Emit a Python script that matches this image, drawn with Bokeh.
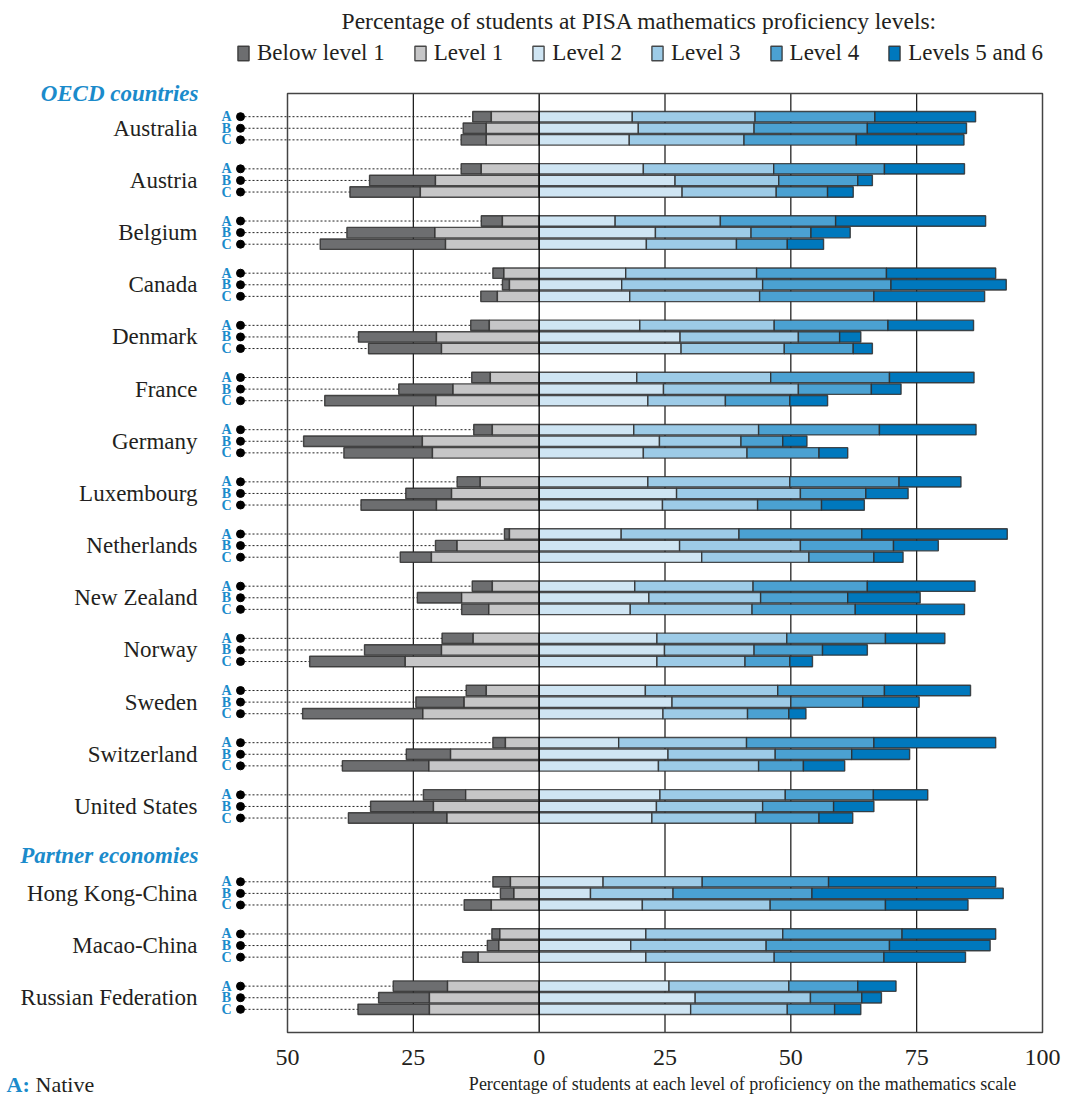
import pandas as pd
from bokeh.plotting import figure
from bokeh.models import ColumnDataSource, Legend, LegendItem, Range1d
from bokeh.embed import file_html
from bokeh.resources import INLINE
from bokeh.core.properties import value

# ---------------- data ----------------
countries = ["Australia", "Austria", "Belgium", "Canada", "Denmark", "France",
             "Germany", "Luxembourg", "Netherlands", "New Zealand", "Norway",
             "Sweden", "Switzerland", "United States",
             "Hong Kong-China", "Macao-China", "Russian Federation"]
n_oecd = 14
groups = ["A", "B", "C"]
group_headers = ["OECD countries", "Partner economies"]

level_names = ["Below level 1", "Level 1", "Level 2", "Level 3", "Level 4", "Levels 5 and 6"]

# values per country: A, B, C
below1 = [3.7, 4.6, 5.0,  4.0, 13.1, 14.0,  4.2, 17.5, 24.9,  2.2, 1.4, 3.3,
          3.7, 15.5, 14.5,  3.7, 10.8, 22.1,  3.7, 23.6, 17.6,  4.6, 9.1, 15.0,
          1.0, 4.3, 6.2,  4.0, 8.8, 5.4,  6.2, 15.3, 19.0,  4.0, 9.6, 23.9,
          2.5, 8.8, 17.2,  8.4, 12.5, 19.6,  3.5, 2.7, 5.4,  1.6, 2.3, 3.1,
          10.8, 10.1, 14.2]
level1 = [9.5, 10.5, 10.5,  11.5, 20.6, 23.6,  7.3, 20.7, 18.6,  7.0, 5.9, 8.3,
          9.9, 20.4, 19.4,  9.7, 17.1, 20.5,  9.3, 23.2, 21.2,  11.7, 17.4, 20.4,
          5.9, 16.3, 21.4,  9.3, 15.4, 10.0,  13.1, 19.4, 26.6,  10.5, 14.9, 23.1,
          6.7, 17.6, 21.9,  14.6, 21.0, 18.3,  5.7, 5.0, 9.5,  7.8, 8.0, 12.1,
          18.2, 21.8, 21.8]
level2 = [18.5, 19.7, 17.9,  20.7, 27.0, 28.4,  15.1, 23.1, 21.3,  17.2, 16.4, 18.0,
          20.0, 28.0, 28.2,  19.4, 24.7, 21.6,  18.8, 23.9, 20.7,  21.6, 27.3, 24.5,
          16.3, 27.9, 32.3,  19.0, 21.8, 18.1,  23.4, 24.9, 23.4,  21.1, 26.4, 24.6,
          15.8, 25.6, 23.7,  24.0, 23.3, 22.4,  12.7, 10.2, 20.5,  21.2, 18.2, 21.2,
          25.8, 31.0, 30.1]
level3 = [24.4, 23.0, 22.8,  25.9, 20.6, 18.7,  20.9, 19.0, 17.9,  26.0, 28.0, 25.8,
          26.7, 23.5, 20.5,  26.6, 26.8, 15.4,  24.8, 16.2, 20.6,  28.2, 24.6, 18.9,
          23.4, 24.0, 21.3,  23.5, 22.2, 24.2,  25.8, 17.8, 17.5,  26.3, 23.6, 16.8,
          25.4, 21.3, 19.9,  24.9, 21.1, 20.6,  19.7, 16.4, 25.4,  27.2, 26.9, 25.5,
          23.8, 22.9, 19.2]
level4 = [23.8, 22.5, 22.3,  22.0, 15.7, 10.2,  22.9, 11.9, 10.1,  25.8, 25.5, 22.7,
          22.6, 8.2, 13.7,  23.6, 14.5, 12.8,  24.0, 8.3, 14.3,  21.7, 13.0, 12.7,
          24.4, 18.5, 12.9,  22.7, 17.3, 20.5,  19.6, 13.6, 8.9,  21.2, 14.3, 8.2,
          25.3, 15.2, 8.9,  17.5, 14.1, 12.6,  25.1, 27.6, 22.9,  23.7, 24.5, 21.8,
          13.7, 10.2, 9.4]
level5_6 = [20.0, 19.7, 21.4,  15.9, 2.9, 5.1,  29.8, 7.8, 7.2,  21.7, 22.9, 22.0,
            17.0, 4.2, 3.8,  16.8, 5.9, 7.5,  19.2, 4.8, 5.7,  12.3, 8.4, 8.5,
            28.9, 8.9, 5.8,  21.4, 14.4, 21.7,  11.8, 8.9, 4.5,  17.1, 11.2, 3.4,
            24.2, 11.5, 8.2,  10.8, 8.0, 6.7,  33.2, 38.0, 16.4,  18.6, 20.0, 16.2,
            7.6, 3.9, 5.2]

x_ticks = [-50, -25, 0, 25, 50, 75, 100]
x_tick_labels = ["50", "25", "0", "25", "50", "75", "100"]

title_text = "Percentage of students at PISA mathematics proficiency levels:"
xlabel_text = "Percentage of students at each level of proficiency on the mathematics scale"
note_key, note_text = "A:", "Native"

# ---------------- style ----------------
SERIF = "Liberation Serif"
BLUE = "#1b8bcb"
TXT = "#231f20"
colors = ["#6d6e70", "#c6c6c7", "#cfe5f3", "#9dcbe7", "#4ba1d2", "#0078bd"]

# ---------------- layout of rows ----------------
rows_y, rows_grp, b_rows = [], [], []
for i, c in enumerate(countries):
    base = 9 * i + (6 if i >= n_oecd else 0)
    for g, grp in enumerate(groups):
        rows_y.append(base + 2 * g)
        rows_grp.append(grp)
    b_rows.append(base + 2)
y_top = rows_y[0] - 4
y_bot = rows_y[-1] + 4

df = pd.DataFrame(dict(y=rows_y, grp=rows_grp, below1=below1, level1=level1,
                       level2=level2, level3=level3, level4=level4, level5_6=level5_6))
df["l1_r"] = 0.0
df["l1_l"] = -df["level1"]
df["b1_r"] = df["l1_l"]
df["b1_l"] = -(df["level1"] + df["below1"])
df["l2_l"] = 0.0
df["l2_r"] = df["level2"]
df["l3_l"] = df["l2_r"]
df["l3_r"] = df["l3_l"] + df["level3"]
df["l4_l"] = df["l3_r"]
df["l4_r"] = df["l4_l"] + df["level4"]
df["l5_l"] = df["l4_r"]
df["l5_r"] = df["l5_l"] + df["level5_6"]
src = ColumnDataSource(df)

# ---------------- geometry (page pixels) ----------------
W, H = 1069, 1098
box_l, box_r, box_t, box_b = 287, 1042, 93, 1032
sx = (box_r - box_l) / (x_ticks[-1] - x_ticks[0])
sy = (box_b - box_t) / (y_bot - y_top)


def px2x(px):
    return x_ticks[0] + (px - box_l) / sx


def py2y(py):
    return y_top + (py - box_t) / sy


p = figure(width=W, height=H, x_range=Range1d(px2x(0), px2x(W)), y_range=Range1d(py2y(H), py2y(0)),
           output_backend="svg", toolbar_location=None, x_axis_type=None, y_axis_type=None,
           min_border=0)
p.outline_line_color = None
p.background_fill_color = None
p.border_fill_color = None

# vertical grid lines (behind bars)
grid_x = [t for t in x_ticks[1:-1] if t != 0]
p.segment(x0=grid_x, y0=[y_top] * len(grid_x), x1=grid_x, y1=[y_bot] * len(grid_x),
          line_color="#111111", line_width=1.2)

# dotted leaders, dots, A/B/C
DOT_X = px2x(240)
LBL_X = px2x(226)
p.segment(x0=DOT_X, y0="y", x1="b1_l", y1="y", source=src, line_color="#222222",
          line_width=1, line_dash="2 2")
p.scatter(x=DOT_X, y="y", source=src, size=8, color="black")
p.text(x=LBL_X, y="y", text="grp", source=src, text_font=value(SERIF), text_font_style="bold",
       text_font_size="14px", text_color=BLUE, text_align="center", text_baseline="middle")

# bars
bar_h = 1.8
specs = [("b1_l", "b1_r"), ("l1_l", "l1_r"), ("l2_l", "l2_r"),
         ("l3_l", "l3_r"), ("l4_l", "l4_r"), ("l5_l", "l5_r")]
renderers = []
for (lft, rgt), col in zip(specs, colors):
    r = p.hbar(y="y", left=lft, right=rgt, height=bar_h, source=src, fill_color=col,
               line_color="#2e2e2e", line_alpha=0.85, line_width=1.4)
    renderers.append(r)

# zero line and box on top
p.segment(x0=[0], y0=[y_top], x1=[0], y1=[y_bot], line_color="black", line_width=1.3)
p.quad(left=[x_ticks[0]], right=[x_ticks[-1]], top=[y_top], bottom=[y_bot],
       fill_color=None, line_color="#444444", line_width=1.5)

# country names
p.text(x=px2x(197), y=b_rows, text=countries, text_font=value(SERIF), text_font_size="23px",
       text_color=TXT, text_align="right", text_baseline="middle")

# group headers
hdr_y = [y_top, (rows_y[3 * n_oecd - 1] + rows_y[3 * n_oecd]) / 2 + 1]
p.text(x=px2x(198), y=hdr_y, text=group_headers, text_font=value(SERIF),
       text_font_style="bold italic", text_font_size="23px", text_color=BLUE,
       text_align="right", text_baseline="middle")

# x tick labels
p.text(x=x_ticks, y=py2y(1057), text=x_tick_labels, text_font=value(SERIF),
       text_font_size="24px", text_color=TXT, text_align="center", text_baseline="middle")

# title, axis label, note
p.text(x=[px2x(639)], y=[py2y(20)], text=[title_text], text_font=value(SERIF),
       text_font_size="23.5px", text_color=TXT, text_align="center", text_baseline="middle")
p.text(x=[px2x(742)], y=[py2y(1083)], text=[xlabel_text], text_font=value(SERIF),
       text_font_size="18px", text_color=TXT, text_align="center", text_baseline="middle")
p.text(x=[px2x(6)], y=[py2y(1084)], text=[note_key], text_font=value(SERIF),
       text_font_style="bold", text_font_size="22px", text_color=BLUE,
       text_align="left", text_baseline="middle")
p.text(x=[px2x(35)], y=[py2y(1084)], text=[note_text], text_font=value(SERIF),
       text_font_size="22px", text_color=TXT, text_align="left", text_baseline="middle")

# legend
legend = Legend(items=[LegendItem(label=n, renderers=[r]) for n, r in zip(level_names, renderers)],
                orientation="horizontal", location=(236, H - 66),
                glyph_width=14, glyph_height=18, label_standoff=7, spacing=28,
                padding=0, margin=0, background_fill_alpha=0, border_line_alpha=0,
                label_text_font=SERIF, label_text_font_size="23px", label_text_color=TXT,
                label_height=20)
p.add_layout(legend)

open("out.html", "w").write(file_html(p, INLINE))
